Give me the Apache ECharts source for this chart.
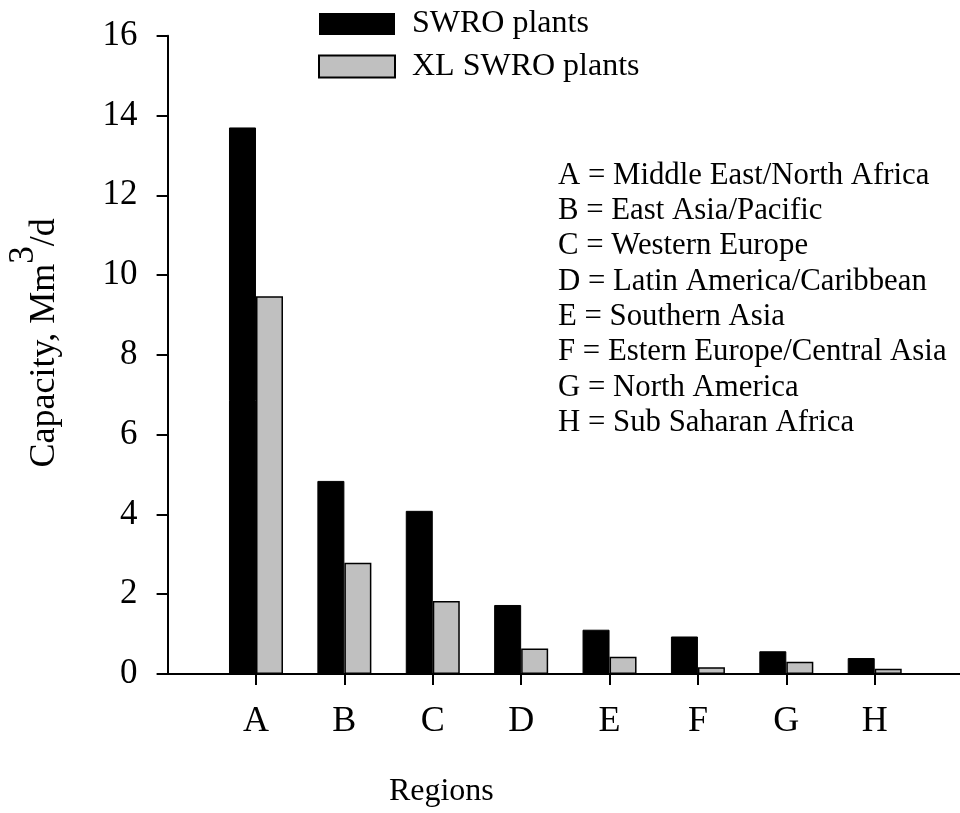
<!DOCTYPE html>
<html>
<head>
<meta charset="utf-8">
<title>SWRO capacity by region</title>
<script src="https://cdn.jsdelivr.net/npm/echarts@6/dist/echarts.min.js"></script>
<style>
  html, body { margin: 0; padding: 0; background: #ffffff; }
  #chart { width: 960px; height: 813px; }
</style>
</head>
<body>
<div id="chart"></div>
<script>
// Region codes along the x axis
const regions = ['A', 'B', 'C', 'D', 'E', 'F', 'G', 'H'];
// Installed capacity, Mm3/d
const swroPlants = [13.7, 4.84, 4.09, 1.73, 1.11, 0.94, 0.57, 0.40];
const xlSwroPlants = [9.47, 2.79, 1.83, 0.64, 0.43, 0.17, 0.31, 0.13];
// Y axis ticks
const yTicks = [0, 2, 4, 6, 8, 10, 12, 14, 16];
// Key to the region codes
const regionKey = [
  'A = Middle East/North Africa',
  'B = East Asia/Pacific',
  'C = Western Europe',
  'D = Latin America/Caribbean',
  'E = Southern Asia',
  'F = Estern Europe/Central Asia',
  'G = North America',
  'H = Sub Saharan Africa'
];

const SERIF = '"Liberation Serif", "Times New Roman", serif';

// An empty slot at each end leaves room on both sides of the bar groups.
const cats = [''].concat(regions, ['']);
const pad = arr => [null].concat(arr, [null]);

const chart = echarts.init(document.getElementById('chart'), null, { renderer: 'canvas' });

chart.setOption({
  backgroundColor: '#ffffff',
  animation: false,
  textStyle: { fontFamily: SERIF, color: '#000' },
  grid: {
    left: 167.6, top: 35.7, width: 795.5, height: 638.3,
    containLabel: false,
    outerBoundsMode: 'none'
  },
  legend: {
    orient: 'vertical',
    left: 313,
    top: 3,
    itemWidth: 76,
    itemHeight: 22,
    itemGap: 10.5,
    icon: 'rect',
    selectedMode: false,
    textStyle: { fontFamily: SERIF, fontSize: 32, color: '#000', padding: [0, 0, 0, 12] },
    data: [
      { name: 'SWRO plants', itemStyle: { color: '#000', borderColor: '#000', borderWidth: 0 } },
      { name: 'XL SWRO plants', itemStyle: { color: '#c0c0c0', borderColor: '#000', borderWidth: 2 } }
    ]
  },
  xAxis: {
    type: 'category',
    data: cats,
    boundaryGap: false,
    name: 'Regions',
    nameLocation: 'middle',
    nameGap: 102,
    nameTextStyle: { fontFamily: SERIF, fontSize: 32, color: '#000', padding: [0, 248, 0, 0] },
    axisLine: { show: true, lineStyle: { color: '#000', width: 2 } },
    axisTick: {
      show: true,
      length: 11,
      inside: false,
      interval: (i, v) => v !== '',
      lineStyle: { color: '#000', width: 2 }
    },
    axisLabel: { interval: 0, margin: 30, fontFamily: SERIF, fontSize: 36, color: '#000' },
    splitLine: { show: false }
  },
  yAxis: {
    type: 'value',
    min: yTicks[0],
    max: yTicks[yTicks.length - 1],
    interval: yTicks[1] - yTicks[0],
    name: '{m|Capacity, Mm}{s|3}{m|/d}',
    nameLocation: 'middle',
    nameGap: 105,
    nameTextStyle: {
      color: '#000',
      padding: [0, 0, 0, 24],
      rich: {
        m: { fontFamily: SERIF, fontSize: 36, color: '#000', lineHeight: 56, verticalAlign: 'bottom' },
        s: { fontFamily: SERIF, fontSize: 35, color: '#000', verticalAlign: 'top' }
      }
    },
    axisLine: { show: true, lineStyle: { color: '#000', width: 2 } },
    axisTick: { show: true, length: 11, inside: false, lineStyle: { color: '#000', width: 2 } },
    axisLabel: { margin: 30, fontFamily: SERIF, fontSize: 35, color: '#000' },
    splitLine: { show: false }
  },
  series: [
    {
      name: 'SWRO plants',
      type: 'bar',
      data: pad(swroPlants),
      barWidth: 27,
      barGap: '0%',
      itemStyle: { color: '#000', borderColor: '#000', borderWidth: 1 }
    },
    {
      name: 'XL SWRO plants',
      type: 'bar',
      data: pad(xlSwroPlants),
      barWidth: 27,
      barGap: '0%',
      itemStyle: { color: '#c0c0c0', borderColor: '#000', borderWidth: 1.5 }
    }
  ],
  graphic: [
    {
      type: 'text',
      left: 558,
      top: 158,
      style: {
        text: regionKey.join('\n'),
        font: '30.8px ' + SERIF,
        fill: '#000',
        lineHeight: 35.3
      }
    }
  ]
});
</script>
</body>
</html>
